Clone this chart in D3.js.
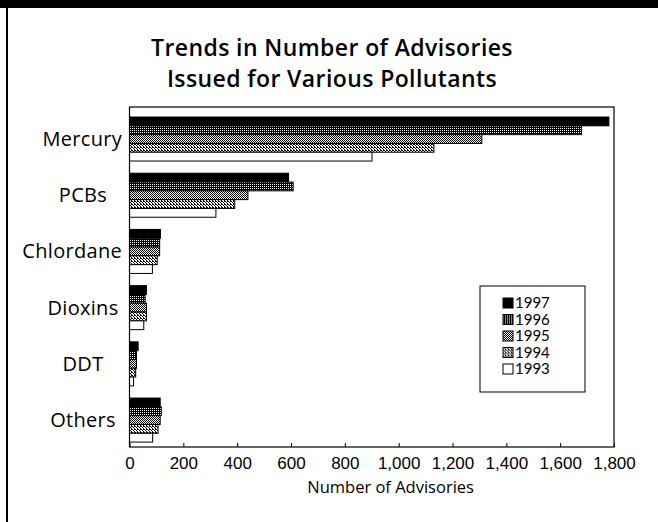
<!DOCTYPE html>
<html>
<head>
<meta charset="utf-8">
<script src="https://cdn.jsdelivr.net/npm/d3@7"></script>
<style>
  body { margin: 0; background: #fff; }
  svg { font-family: "Open Sans", sans-serif; }
</style>
</head>
<body>
<svg width="658" height="522"></svg>
<script>
var pollutants = ["Mercury", "PCBs", "Chlordane", "Dioxins", "DDT", "Others"];
var years = ["1997", "1996", "1995", "1994", "1993"];
var v1997 = [1781, 591, 115, 63, 32, 114];
var v1996 = [1679, 608, 112, 58, 26, 118];
var v1995 = [1309, 440, 112, 63, 26, 114];
var v1994 = [1131, 391, 103, 63, 23, 106];
var v1993 = [901, 321, 85, 53, 15, 86];
var xTicks = [0, 200, 400, 600, 800, 1000, 1200, 1400, 1600, 1800];

var series = [v1997, v1996, v1995, v1994, v1993];
var rows = [];
pollutants.forEach(function(p, i){
  years.forEach(function(y, j){
    rows.push({pollutant: p, year: y, value: series[j][i]});
  });
});

var svg = d3.select("svg");

// dithered fills like the printed original
var defs = svg.append("defs");
function dither(id, size, bg, dots){
  var p = defs.append("pattern")
      .attr("id", id)
      .attr("patternUnits", "userSpaceOnUse")
      .attr("width", size)
      .attr("height", size);
  p.append("rect").attr("width", size).attr("height", size).attr("fill", bg);
  dots.forEach(function(d){
    p.append("rect").attr("x", d[0]).attr("y", d[1]).attr("width", 1).attr("height", 1)
      .attr("fill", bg === "#000" ? "#fff" : "#000");
  });
}
dither("p1996", 2, "#000", [[0, 0]]);
dither("p1995", 2, "#fff", [[0, 0], [1, 1]]);
dither("p1994", 3, "#fff", [[0, 0], [1, 1], [2, 2], [2, 0]]);

var fills = {"1997": "#000", "1996": "url(#p1996)", "1995": "url(#p1995)",
             "1994": "url(#p1994)", "1993": "#fff"};

// page frame
svg.append("rect").attr("x", 0).attr("y", 0).attr("width", 658).attr("height", 8).attr("fill", "#000");
svg.append("rect").attr("x", 6).attr("y", 0).attr("width", 2).attr("height", 522).attr("fill", "#000");

svg.append("text")
    .attr("x", 332).attr("y", 55.5)
    .attr("text-anchor", "middle")
    .style("font-size", "23px").style("font-weight", "600")
    .style("letter-spacing", "0.4px")
    .text("Trends in Number of Advisories");
svg.append("text")
    .attr("x", 332).attr("y", 87)
    .attr("text-anchor", "middle")
    .style("font-size", "23px").style("font-weight", "600")
    .style("letter-spacing", "0.4px")
    .text("Issued for Various Pollutants");

var x = d3.scaleLinear().domain([0, 1800]).range([129.5, 614]);
var y = d3.scaleBand().domain(pollutants).range([107, 447])
          .paddingInner(0.217).paddingOuter(0.133).align(0.67);
var yy = d3.scaleBand().domain(years).range([0, y.bandwidth()]);

svg.append("g")
  .selectAll("rect")
  .data(rows)
  .enter()
  .append("rect")
    .attr("x", x(0))
    .attr("y", d => y(d.pollutant) + yy(d.year))
    .attr("width", d => x(d.value) - x(0))
    .attr("height", yy.bandwidth())
    .attr("fill", d => fills[d.year])
    .attr("stroke", "#000")
    .attr("stroke-width", 1);

// plot box
svg.append("rect")
    .attr("x", x(0)).attr("y", 107)
    .attr("width", x(1800) - x(0)).attr("height", 340)
    .attr("fill", "none").attr("stroke", "#000").attr("stroke-width", 1.2);

var xAxis = svg.append("g")
    .attr("transform", "translate(0,447)")
    .call(d3.axisBottom(x).tickValues(xTicks).tickFormat(d3.format(","))
            .tickSize(-4).tickSizeOuter(0).tickPadding(10));
xAxis.select(".domain").remove();
xAxis.selectAll("text").style("font-size", "17px").attr("fill", "#000");

svg.append("text")
    .attr("x", x(970)).attr("y", 493)
    .attr("text-anchor", "middle")
    .style("font-size", "16.5px")
    .text("Number of Advisories");

// labels sit around a common centre but never run into the axis
svg.append("g")
  .selectAll("text")
  .data(pollutants)
  .enter()
  .append("text")
    .attr("y", d => y(d) + y.bandwidth() / 2)
    .attr("dy", "0.35em")
    .attr("text-anchor", "end")
    .style("font-size", "20px")
    .style("letter-spacing", "0.3px")
    .text(d => d)
    .attr("x", function(){
      var w = this.getComputedTextLength();
      return Math.min(83 + w / 2, 122);
    });

// legend
var legend = svg.append("g").attr("transform", "translate(480,286)");
legend.append("rect")
    .attr("width", 105).attr("height", 106)
    .attr("fill", "#fff").attr("stroke", "#000");
var item = legend.selectAll(".item")
  .data(years)
  .enter()
  .append("g")
    .attr("transform", (d, i) => "translate(23," + (17 + i * 16.5) + ")");
item.append("rect")
    .attr("y", -5).attr("width", 10).attr("height", 10)
    .attr("fill", d => fills[d]).attr("stroke", "#000");
item.append("text")
    .attr("x", 12).attr("dy", "0.36em")
    .style("font-family", "Lato, sans-serif")
    .style("font-size", "15px")
    .text(d => d);
</script>
</body>
</html>
